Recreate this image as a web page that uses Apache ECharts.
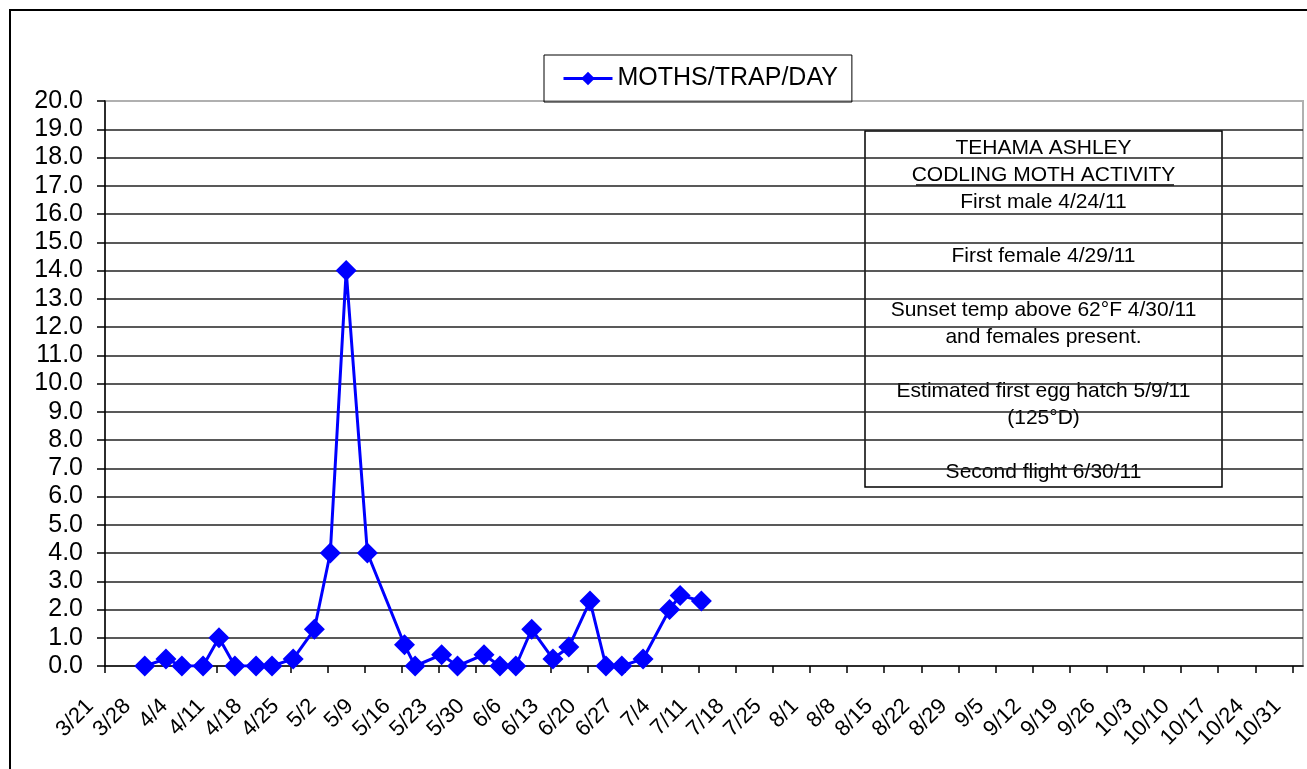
<!DOCTYPE html>
<html>
<head>
<meta charset="utf-8">
<script src="https://cdn.jsdelivr.net/npm/echarts@6/dist/echarts.min.js"></script>
<style>
  html, body { margin: 0; padding: 0; background: #fff; }
  #chart { width: 1307px; height: 769px; }
</style>
</head>
<body>
<div id="chart"></div>
<script>
// trap counts, 2011 season
const trapDates = ['3/28', '4/1', '4/4', '4/8', '4/11', '4/14', '4/18', '4/21', '4/25', '4/29',
  '5/2', '5/5', '5/9', '5/16', '5/18', '5/23', '5/26', '5/31', '6/3', '6/6',
  '6/9', '6/13', '6/16', '6/20', '6/23', '6/26', '6/30', '7/5', '7/7', '7/11'];
const mothsPerTrapDay = [0, 0.25, 0, 0, 1.0, 0, 0, 0, 0.25, 1.3,
  4.0, 14.0, 4.0, 0.75, 0, 0.4, 0, 0.4, 0, 0,
  1.3, 0.25, 0.67, 2.3, 0, 0, 0.25, 2.0, 2.5, 2.3];

// weekly tick labels, starting 3/21
const weekLabels = ['3/21', '3/28', '4/4', '4/11', '4/18', '4/25', '5/2', '5/9', '5/16', '5/23',
  '5/30', '6/6', '6/13', '6/20', '6/27', '7/4', '7/11', '7/18', '7/25', '8/1', '8/8',
  '8/15', '8/22', '8/29', '9/5', '9/12', '9/19', '9/26', '10/3', '10/10', '10/17',
  '10/24', '10/31'];

const noteLines = ['TEHAMA ASHLEY', 'CODLING MOTH ACTIVITY', 'First male 4/24/11', '',
  'First female 4/29/11', '', 'Sunset temp above 62°F 4/30/11', 'and females present.', '',
  'Estimated first egg hatch 5/9/11', '(125°D)', '', 'Second flight 6/30/11'];

const FONT = 'Liberation Sans, Arial, sans-serif';
const startDay = Date.UTC(2011, 2, 21);

// days since 3/21, each date sits in the middle of its day slot (like excel date axis)
function dayPos(md) {
  const [m, d] = md.split('/').map(Number);
  return (Date.UTC(2011, m - 1, d) - startDay) / 864e5 + 0.5;
}

const weekTicks = weekLabels.map((_, i) => i * 7);

const chart = echarts.init(document.getElementById('chart'));

const option = {
  animation: false,
  backgroundColor: '#fff',
  legend: {
    left: 544,
    top: 55,
    padding: [11, 14, 11, 18],
    borderColor: '#000',
    borderWidth: 1,
    itemWidth: 49,
    itemHeight: 17,
    lineStyle: { width: 3 },
    textStyle: { fontFamily: FONT, fontSize: 25, color: '#000' },
    data: ['MOTHS/TRAP/DAY']
  },
  grid: {
    left: 105,
    right: 4,
    top: 101,
    bottom: 103,
    show: true,
    borderColor: '#b0b0b0',
    borderWidth: 2
  },
  xAxis: {
    type: 'value',
    min: 0,
    max: 226,
    interval: 7,
    axisLine: { lineStyle: { color: '#000', width: 1.5 } },
    axisTick: {
      length: 7,
      customValues: weekTicks,
      lineStyle: { color: '#000', width: 1.5 }
    },
    splitLine: { show: false },
    axisLabel: {
      rotate: 45,
      margin: 22,
      padding: [0, 21, 0, 0],
      fontFamily: FONT,
      fontSize: 22,
      color: '#000',
      customValues: weekTicks,
      formatter: (v) => weekLabels[Math.round(v / 7)]
    }
  },
  yAxis: {
    type: 'value',
    min: 0,
    max: 20,
    interval: 1,
    axisLine: { show: true, lineStyle: { color: '#000', width: 1.5 } },
    axisTick: { show: true, length: 8, lineStyle: { color: '#000', width: 1.5 } },
    splitLine: {
      show: true,
      showMinLine: false,
      showMaxLine: false,
      lineStyle: { color: '#222', width: 1.5 }
    },
    axisLabel: {
      margin: 22,
      fontFamily: FONT,
      fontSize: 25,
      color: '#000',
      formatter: (v) => v.toFixed(1)
    }
  },
  series: [
    {
      name: 'MOTHS/TRAP/DAY',
      type: 'line',
      symbol: 'diamond',
      symbolSize: 21,
      color: '#0000ff',
      lineStyle: { color: '#0000ff', width: 3 },
      itemStyle: { color: '#0000ff' },
      data: trapDates.map((d, i) => [dayPos(d), mothsPerTrapDay[i]])
    }
  ],
  graphic: [
    // outer chart frame
    {
      type: 'rect',
      shape: { x: 10, y: 10, width: 1400, height: 900 },
      style: { fill: null, stroke: '#000', lineWidth: 2 },
      silent: true
    },
    // note box
    {
      type: 'group',
      z: 100,
      children: [
        {
          type: 'rect',
          shape: { x: 865, y: 131, width: 357, height: 356 },
          style: { fill: '#fff', stroke: '#000', lineWidth: 1.5 }
        },
        {
          type: 'text',
          x: 1043.5,
          y: 135,
          style: {
            text: noteLines.join('\n'),
            font: '21px ' + FONT,
            fill: '#000',
            align: 'center',
            verticalAlign: 'top',
            lineHeight: 27
          }
        },
        {
          type: 'line',
          shape: { x1: 916, y1: 185, x2: 1174, y2: 185 },
          style: { stroke: '#000', lineWidth: 1.5 }
        }
      ]
    }
  ]
};

chart.setOption(option);
</script>
</body>
</html>
